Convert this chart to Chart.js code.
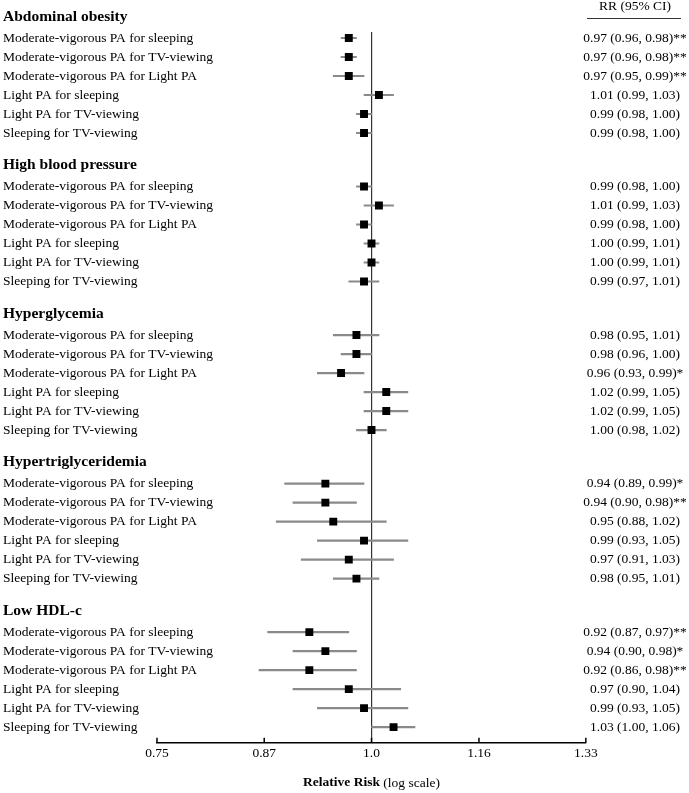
<!DOCTYPE html>
<html lang="en">
<head>
  <meta charset="UTF-8" />
  <title>Relative Risk Forest Plot</title>
  <script src="https://cdn.jsdelivr.net/npm/chart.js"></script>
  <style>
    body { margin: 0; background: #fff; }
    canvas { display: block; }
  </style>
</head>
<body>
  <canvas id="forestChart" width="689" height="793"></canvas>

  <script>
    const outcomes = ['Abdominal obesity', 'High blood pressure', 'Hyperglycemia', 'Hypertriglyceridemia', 'Low HDL-c'];
    const comparisons = [
      'Moderate-vigorous PA for sleeping',
      'Moderate-vigorous PA for TV-viewing',
      'Moderate-vigorous PA for Light PA',
      'Light PA for sleeping',
      'Light PA for TV-viewing',
      'Sleeping for TV-viewing'
    ];

    // one row per outcome, one value per comparison
    const rrValues = [
      [0.97, 0.97, 0.97, 1.01, 0.99, 0.99],
      [0.99, 1.01, 0.99, 1.00, 1.00, 0.99],
      [0.98, 0.98, 0.96, 1.02, 1.02, 1.00],
      [0.94, 0.94, 0.95, 0.99, 0.97, 0.98],
      [0.92, 0.94, 0.92, 0.97, 0.99, 1.03]
    ];
    const lowerCI = [
      [0.96, 0.96, 0.95, 0.99, 0.98, 0.98],
      [0.98, 0.99, 0.98, 0.99, 0.99, 0.97],
      [0.95, 0.96, 0.93, 0.99, 0.99, 0.98],
      [0.89, 0.90, 0.88, 0.93, 0.91, 0.95],
      [0.87, 0.90, 0.86, 0.90, 0.93, 1.00]
    ];
    const upperCI = [
      [0.98, 0.98, 0.99, 1.03, 1.00, 1.00],
      [1.00, 1.03, 1.00, 1.01, 1.01, 1.01],
      [1.01, 1.00, 0.99, 1.05, 1.05, 1.02],
      [0.99, 0.98, 1.02, 1.05, 1.03, 1.01],
      [0.97, 0.98, 0.98, 1.04, 1.05, 1.06]
    ];
    const stars = [
      ['**', '**', '**', '', '', ''],
      ['', '', '', '', '', ''],
      ['', '', '*', '', '', ''],
      ['*', '**', '', '', '', ''],
      ['**', '*', '**', '', '', '']
    ];

    const tickValues = [0.75, 0.866, 1, 1.155, 1.333];
    const tickLabels = ['0.75', '0.87', '1.0', '1.16', '1.33'];

    // row slots on the y scale
    const GROUP_STEP = 7.82;
    const rowPos = (g, r) => 1 + g * GROUP_STEP + r;
    const headerPos = g => g * GROUP_STEP - 0.12;

    const whiskers = [];
    const points = [];
    outcomes.forEach((o, g) => {
      comparisons.forEach((c, r) => {
        whiskers.push({ y: rowPos(g, r), x: [lowerCI[g][r], upperCI[g][r]] });
        points.push({ y: rowPos(g, r), x: rrValues[g][r] });
      });
    });

    const serif = "'Liberation Serif', 'Times New Roman', serif";

    const labelsPlugin = {
      id: 'forestLabels',
      afterDraw(chart) {
        const { ctx, scales: { x, y }, chartArea } = chart;
        ctx.save();

        // upward tick marks on the axis
        ctx.strokeStyle = '#000';
        ctx.lineWidth = 1.5;
        x.ticks.forEach(t => {
          const px = x.getPixelForValue(t.value);
          ctx.beginPath();
          ctx.moveTo(px, chartArea.bottom);
          ctx.lineTo(px, chartArea.bottom - 5);
          ctx.stroke();
        });

        ctx.fillStyle = '#000';
        ctx.textBaseline = 'middle';
        const ciX = 635;

        outcomes.forEach((o, g) => {
          ctx.textAlign = 'left';
          ctx.font = 'bold 15.5px ' + serif;
          ctx.fillText(o, 3, y.getPixelForValue(headerPos(g)));

          comparisons.forEach((c, r) => {
            const py = y.getPixelForValue(rowPos(g, r));
            ctx.font = '13.5px ' + serif;
            ctx.textAlign = 'left';
            ctx.fillText(c, 3, py);

            const txt = rrValues[g][r].toFixed(2) + ' (' + lowerCI[g][r].toFixed(2) + ', ' +
              upperCI[g][r].toFixed(2) + ')' + stars[g][r];
            ctx.textAlign = 'center';
            ctx.fillText(txt, ciX, py);
          });
        });

        // column header
        ctx.textAlign = 'center';
        ctx.font = '13.5px ' + serif;
        ctx.fillText('RR (95% CI)', ciX, 6);
        ctx.lineWidth = 1;
        ctx.strokeStyle = '#333';
        ctx.beginPath();
        ctx.moveTo(587, 18.5);
        ctx.lineTo(681, 18.5);
        ctx.stroke();

        // axis title, mixed weight
        ctx.font = 'bold 13.5px ' + serif;
        const boldTxt = 'Relative Risk';
        const bw = ctx.measureText(boldTxt).width;
        ctx.font = '13.5px ' + serif;
        const restTxt = ' (log scale)';
        const rw = ctx.measureText(restTxt).width;
        const cx = x.getPixelForValue(1);
        const startX = cx - (bw + rw) / 2;
        ctx.textAlign = 'left';
        ctx.font = 'bold 13.5px ' + serif;
        ctx.fillText(boldTxt, startX, 783);
        ctx.font = '13.5px ' + serif;
        ctx.fillText(restTxt, startX + bw, 783);

        ctx.restore();
      }
    };

    const ctx = document.getElementById('forestChart').getContext('2d');
    new Chart(ctx, {
      data: {
        datasets: [
          {
            type: 'bar',
            indexAxis: 'y',
            order: 2,
            data: whiskers,
            backgroundColor: '#8a8a8a',
            barThickness: 1.5,
            borderWidth: 0
          },
          {
            type: 'scatter',
            order: 1,
            data: points,
            pointStyle: 'rect',
            pointRadius: 5.6,
            backgroundColor: '#000',
            borderWidth: 0
          }
        ]
      },
      options: {
        responsive: false,
        animation: false,
        layout: { padding: { left: 157, right: 103, top: 32, bottom: 28 } },
        plugins: { legend: { display: false }, tooltip: { enabled: false } },
        scales: {
          x: {
            type: 'logarithmic',
            min: 0.75,
            max: 1.3333,
            afterBuildTicks: axis => {
              axis.ticks = tickValues.map(v => ({ value: v }));
            },
            ticks: {
              callback: (v, i) => tickLabels[i],
              autoSkip: false,
              maxRotation: 0,
              padding: 3,
              color: '#000',
              font: { family: serif, size: 13.5 }
            },
            grid: {
              drawTicks: false,
              color: c => (c.tick && c.tick.value === 1 ? '#333' : 'rgba(0,0,0,0)'),
              lineWidth: 1.2
            },
            border: { display: true, color: '#000', width: 1.5 }
          },
          y: {
            type: 'linear',
            display: false,
            reverse: true,
            offset: false,
            min: 0.684,
            max: 38.105
          }
        }
      },
      plugins: [labelsPlugin]
    });
  </script>
</body>
</html>
